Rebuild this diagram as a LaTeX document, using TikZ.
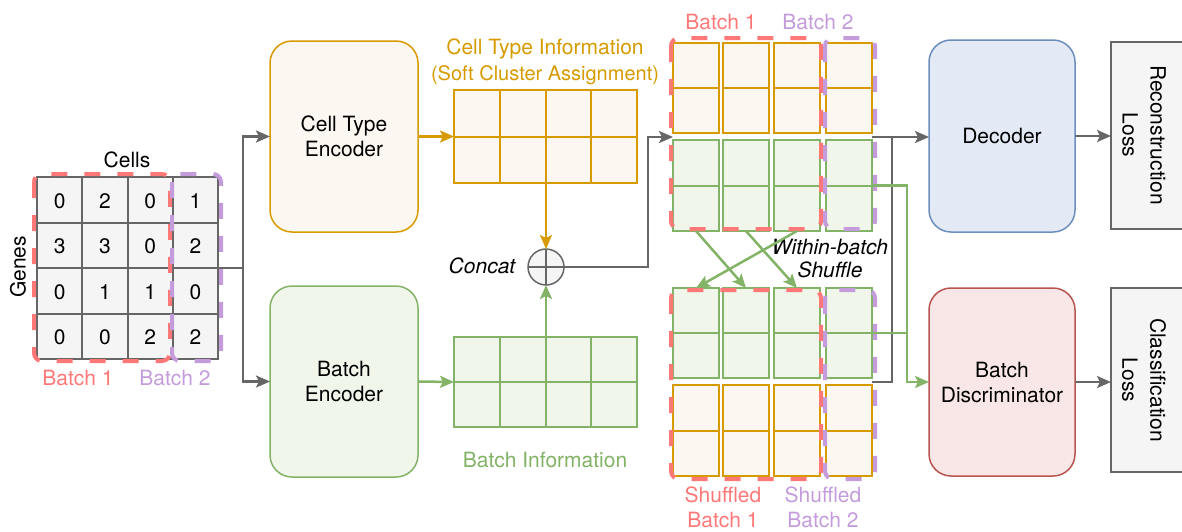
\documentclass[tikz,border=0pt]{standalone}
\usepackage{fontspec}
\setmainfont{TeX Gyre Heros}
\usetikzlibrary{arrows.meta,calc,fit}

\definecolor{edgegray}{HTML}{666666}
\definecolor{cellfill}{HTML}{F5F5F5}
\definecolor{ctline}{HTML}{D79B00}
\definecolor{ctfill}{HTML}{FCF7F0}
\definecolor{bline}{HTML}{82B366}
\definecolor{bfill}{HTML}{F0F6EA}
\definecolor{decline}{HTML}{6C8EBF}
\definecolor{decfill}{HTML}{E3EAF6}
\definecolor{disline}{HTML}{B85450}
\definecolor{disfill}{HTML}{F9E7E7}
\definecolor{bonecol}{HTML}{FF7878}
\definecolor{btwocol}{HTML}{C49BDB}

% inner separators of a table-like node, given as fractions of its size
\newcommand\vlinesin[3]{\foreach \f in {#2}{\draw[#3] ($(#1.north west)!\f!(#1.north east)$) -- ($(#1.south west)!\f!(#1.south east)$);}}
\newcommand\hlinesin[3]{\foreach \f in {#2}{\draw[#3] ($(#1.north west)!\f!(#1.south west)$) -- ($(#1.north east)!\f!(#1.south east)$);}}

\begin{document}
\begin{tikzpicture}[x=1pt,y=-1pt,
  every node/.style={font=\fontsize{21}{25}\selectfont, inner sep=0pt, outer sep=0pt},
  tip/.style={-{Stealth[length=14pt,width=12pt,inset=3pt]}},
  gline/.style={draw=edgegray, line width=2.5pt},
  garrow/.style={gline, tip},
  oarrow/.style={draw=ctline, line width=2.5pt, tip},
  barrow/.style={draw=bline, line width=2.5pt, tip},
  bline2/.style={draw=bline, line width=2.5pt},
  bigbox/.style={rounded corners=22pt, line width=1.5pt, align=center},
  encbox/.style={bigbox, minimum width=148pt, minimum height=191pt},
  headbox/.style={bigbox, minimum width=146pt},
  lossbox/.style={draw=edgegray, fill=cellfill, line width=1.5pt, minimum width=84pt},
  tab/.style={draw=#1, line width=2pt},
  dashbox/.style={line width=4pt, rounded corners=8pt, dash pattern=on 16pt off 17pt},
  concat/.style={circle, draw=edgegray, fill=cellfill, line width=1.5pt, minimum size=36pt,
    path picture={\draw[edgegray, line width=1.5pt]
      (path picture bounding box.north) -- (path picture bounding box.south)
      (path picture bounding box.west) -- (path picture bounding box.east);}},
]
\useasboundingbox (0,0) rectangle (1182,531);

% ---------- expression matrix ----------
\node[tab=edgegray, fill=cellfill, minimum width=181pt, minimum height=182pt] (mat) at (127.5,268) {};
\vlinesin{mat}{0.25,0.5,0.75}{edgegray, line width=2pt}
\hlinesin{mat}{0.25,0.5,0.75}{edgegray, line width=2pt}
\foreach \v [count=\k from 0] in {0,2,0,1,3,3,0,2,0,1,1,0,0,0,2,2}{
  \pgfmathtruncatemacro\rr{div(\k,4)}
  \pgfmathtruncatemacro\cc{mod(\k,4)}
  \node (n\rr\cc) at ({37+45.25*(\cc+0.5)},{177+45.5*(\rr+0.5)+1}) {\v};
}
\draw[dashbox, bonecol] (34,174) rectangle (170,361);
\draw[dashbox, btwocol] (172,174) rectangle (221,361);
\node (cells) at (127,160) {Cells};
\node[rotate=90] (genes) at (18,267) {Genes};
\node[text=bonecol] (mb1) at (78,378) {Batch 1};
\node[text=btwocol] (mb2) at (175,378) {Batch 2};

% ---------- encoders ----------
\node[encbox, draw=ctline, fill=ctfill] (ctenc) at (344,136.5) {Cell Type\\Encoder};
\node[encbox, draw=bline, fill=bfill] (benc) at (344,381.5) {Batch\\Encoder};

% ---------- latent representations ----------
\node[tab=ctline, fill=ctfill, minimum width=183pt, minimum height=93pt] (ctgrid) at (545.5,136.5) {};
\vlinesin{ctgrid}{0.25,0.5,0.75}{ctline, line width=2pt}
\hlinesin{ctgrid}{0.5}{ctline, line width=2pt}
\node[text=ctline] (ctlab) at (545,49) {Cell Type Information};
\node[text=ctline, font=\fontsize{20}{24}\selectfont] (ctsub) at (545,75) {(Soft Cluster Assignment)};

\node[tab=bline, fill=bfill, minimum width=183pt, minimum height=90pt] (bgrid) at (545.5,382) {};
\vlinesin{bgrid}{0.25,0.5,0.75}{bline, line width=2pt}
\hlinesin{bgrid}{0.5}{bline, line width=2pt}
\node[text=bline] (blab) at (545,460) {Batch Information};

\node[concat] (cat) at (546,267) {};
\node[font=\fontsize{21}{25}\selectfont\itshape] (catlab) at (482,266) {Concat};

% ---------- concatenated and shuffled columns ----------
\foreach \c/\x in {1/696,2/746,3/797,4/849}{
  \node[tab=ctline, fill=ctfill, minimum width=46pt, minimum height=90pt] (to\c) at (\x,88) {};
  \node[tab=bline, fill=bfill, minimum width=46pt, minimum height=91pt] (tg\c) at (\x,185.5) {};
  \node[tab=bline, fill=bfill, minimum width=46pt, minimum height=90pt] (sg\c) at (\x,333) {};
  \node[tab=ctline, fill=ctfill, minimum width=46pt, minimum height=91pt] (so\c) at (\x,430.5) {};
  \hlinesin{to\c}{0.5}{ctline, line width=2pt}
  \hlinesin{tg\c}{0.5}{bline, line width=2pt}
  \hlinesin{sg\c}{0.5}{bline, line width=2pt}
  \hlinesin{so\c}{0.5}{ctline, line width=2pt}
}
\node[fit=(to1)(tg4), inner sep=0pt] (topblock) {};
\node[fit=(sg1)(so4), inner sep=0pt] (shblock) {};

\draw[dashbox, bonecol] (671,38) rectangle (821,229);
\draw[dashbox, btwocol] (825,38) rectangle (875,229);
\draw[dashbox, bonecol] (671,290) rectangle (821,479);
\draw[dashbox, btwocol] (825,290) rectangle (875,479);

\node[text=bonecol] (tb1) at (721,22) {Batch 1};
\node[text=btwocol] (tb2) at (818,22) {Batch 2};
\node[text=bonecol, align=center] (sb1) at (723,507) {Shuffled\\Batch 1};
\node[text=btwocol, align=center] (sb2) at (823,507) {Shuffled\\Batch 2};
\node[font=\fontsize{21}{23}\selectfont\itshape, align=center] (shuf) at (830,259) {Within-batch\\Shuffle};

% ---------- heads and losses ----------
\node[headbox, draw=decline, fill=decfill, minimum height=192pt] (dec) at (1002,136) {Decoder};
\node[headbox, draw=disline, fill=disfill, minimum height=188pt] (dis) at (1002,382) {Batch\\Discriminator};
\node[lossbox, minimum height=187pt] (rec) at (1153,135.5) {};
\node[lossbox, minimum height=184pt] (cls) at (1153,380) {};
\node[rotate=-90, align=center, font=\fontsize{21}{28}\selectfont] (rectext) at (1144,135) {Reconstruction\\Loss};
\node[rotate=-90, align=center, font=\fontsize{21}{28}\selectfont] (clstext) at (1144,380) {Classification\\Loss};

% ---------- connectors ----------
\coordinate (split) at (243,268);
\draw[garrow] (mat.east) -- (split) |- (ctenc.west);
\draw[garrow] (split) |- (benc.west);
\draw[oarrow] (ctenc.east) -- (ctgrid.west);
\draw[barrow] (benc.east) -- (bgrid.west);
\draw[oarrow] (ctgrid.south -| cat.north) -- (cat.north);
\draw[barrow] (bgrid.north -| cat.south) -- (cat.south);
\draw[garrow] (cat.east) -| (648,200) |- (topblock.west);

\draw[barrow] (tg1.south) -- (sg2.north);
\draw[barrow] (tg2.south) -- (sg3.north);
\draw[barrow] (tg3.south) -- (sg1.north);

\coordinate (jdec) at (892,137);
\coordinate (jdis) at (907,382);
\draw[garrow] (topblock.east) -- (dec.west |- topblock.east);
\draw[gline] (shblock.east) -| (jdec);
\draw[barrow] (tg4.east) -| (jdis) -- (dis.west |- jdis);
\draw[bline2] (sg4.east) -- (sg4.east -| jdis);

\draw[garrow] (dec.east) -- (rec.west |- dec.east);
\draw[garrow] (dis.east) -- (cls.west |- dis.east);
\end{tikzpicture}
\end{document}
